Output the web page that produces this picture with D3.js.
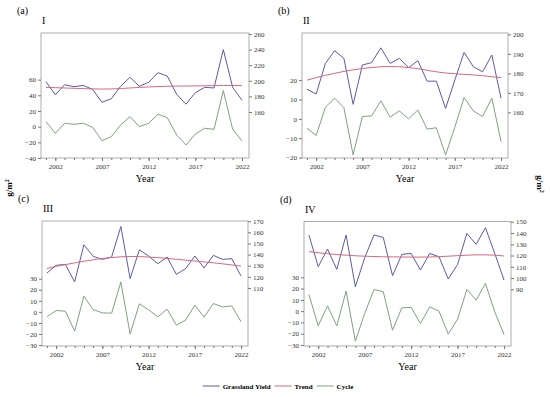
<!DOCTYPE html>
<html>
<head>
<meta charset="UTF-8">
<script src="https://d3js.org/d3.v7.min.js"></script>
<style>
  body { margin: 0; background: #fff; }
  svg text { font-family: "Liberation Serif", "Times New Roman", serif; }
  .tick text { font-size: 7px; fill: #333; }
  .tick line, .domain { stroke: #777; }
</style>
</head>
<body>
<svg id="chart" width="550" height="397"></svg>
<script>
const years = d3.range(2001, 2023);

const yieldI = [199, 182, 195, 192.5, 194, 189, 172.4, 177, 193, 204.5, 193, 198, 210.4, 206, 182.7, 170, 184.8, 191.6, 190.8, 240, 191.6, 175];
const trendI = [191.5, 191.2, 190.8, 190.4, 190, 189.6, 189.4, 189.6, 190.1, 190.8, 191.5, 192.1, 192.6, 193, 193.2, 193.3, 193.4, 193.6, 193.8, 194, 194, 193.8];
const cycleI = [6.4, -8.5, 4.3, 3, 4.3, -0.9, -17.9, -12.8, 2.1, 12.8, 0, 4.3, 15.8, 11.5, -10.6, -23.4, -9.4, -2, -3.4, 46, -3.4, -18.3];

const yieldII = [171.9, 169.4, 185.1, 191.6, 187.7, 164.1, 184.3, 185.5, 193.1, 185.1, 187.7, 182.9, 186.5, 176, 176, 162, 176.6, 190.8, 183.4, 180.8, 189.4, 167.2];
const trendII = [176.5, 177.8, 179, 180, 181, 181.8, 182.5, 183, 183.4, 183.5, 183.4, 183, 182.4, 181.6, 180.8, 180.2, 179.8, 179.5, 179.2, 178.8, 178.3, 177.8];
const cycleII = [-4.8, -8.6, 6, 10.7, 5.8, -18.6, 1.2, 1.5, 9.3, 0.9, 4.1, 0, 4.6, -5.3, -4.6, -18.6, -4.3, 11, 4.1, 1.2, 10.7, -11.7];

const yieldIII = [123.4, 130.3, 131.2, 115.4, 148.8, 138.4, 135.7, 137.8, 165.2, 118.4, 144.3, 138.7, 131.8, 137.8, 122.2, 127.3, 138.7, 127.9, 139.3, 135.7, 136.3, 120.7];
const trendIII = [127.5, 129.5, 131, 132.5, 134, 135.3, 136.5, 137.3, 138, 138.3, 138.2, 137.8, 137.3, 136.6, 135.8, 135, 134.2, 133.4, 132.6, 131.7, 130.7, 129.6];
const cycleIII = [-4.5, 1.2, 0.6, -17.4, 14.1, 2.1, -0.9, -1.2, 27, -20.1, 7.2, 1.8, -4.5, 2.4, -12, -7.5, 6, -4.8, 7.5, 4.5, 5.4, -9];

const yieldIV = [138.2, 110.1, 125.7, 107.7, 138.2, 92.3, 118, 138.2, 136.1, 102.1, 121, 121.9, 107.1, 121.9, 118.9, 99.1, 112.1, 139.6, 129.9, 144.7, 121.9, 98.2];
const trendIV = [123.5, 122.5, 121.6, 120.9, 120.3, 119.8, 119.4, 119.1, 118.9, 118.8, 118.7, 118.6, 118.6, 118.7, 119, 119.4, 119.9, 120.3, 120.6, 120.6, 120.3, 119.6];
const cycleIV = [14.8, -13, 4.7, -13, 17.8, -26.6, -2.1, 19.2, 17.2, -16.9, 3, 3.3, -10.9, 3.8, 0, -20.4, -7.1, 19.2, 9.8, 24.6, -0.6, -20.7];

const yearTicks = [2002, 2007, 2012, 2017, 2022];
const leftTicksI = [-40, -20, 0, 20, 40, 60];
const rightTicksI = [160, 180, 200, 220, 240, 260];
const leftTicksII = [-20, -10, 0, 10, 20];
const rightTicksII = [160, 170, 180, 190, 200];
const leftTicksIII = [-30, -20, -10, 0, 10, 20, 30];
const rightTicksIII = [110, 120, 130, 140, 150, 160, 170];
const leftTicksIV = [-30, -20, -10, 0, 10, 20, 30];
const rightTicksIV = [90, 100, 110, 120, 130, 140, 150];

const seriesNames = ["Grassland Yield", "Trend", "Cycle"];
const colors = { "Grassland Yield": "#5b5ba8", "Trend": "#d8697a", "Cycle": "#7fa27f" };
const serif = "'Liberation Serif', 'Times New Roman', serif";

const panels = [
  { tag: "(a)", name: "I", x0: 41, x1: 249, y0: 33, y1: 158, left: [-40, 119.5], right: [101, 261.3],
    lt: leftTicksI, rt: rightTicksI, yl: yieldI, tr: trendI, cy: cycleI },
  { tag: "(b)", name: "II", x0: 302, x1: 508, y0: 33, y1: 158, left: [-20.2, 44.3], right: [136.6, 200.7],
    lt: leftTicksII, rt: rightTicksII, yl: yieldII, tr: trendII, cy: cycleII },
  { tag: "(c)", name: "III", x0: 42, x1: 248, y0: 221, y1: 346, left: [-30.9, 82.2], right: [57.8, 170.2],
    lt: leftTicksIII, rt: rightTicksIII, yl: yieldIII, tr: trendIII, cy: cycleIII },
  { tag: "(d)", name: "IV", x0: 304, x1: 511, y0: 221.5, y1: 346, left: [-30.9, 79.5], right: [39.7, 150.2],
    lt: leftTicksIV, rt: rightTicksIV, yl: yieldIV, tr: trendIV, cy: cycleIV }
];

const svg = d3.select("#chart").attr("font-family", serif);

panels.forEach(p => {
  const g = svg.append("g");
  const x = d3.scaleLinear().domain([2000.47, 2022.75]).range([p.x0, p.x1]);
  const yL = d3.scaleLinear().domain(p.left).range([p.y1, p.y0]);
  const yR = d3.scaleLinear().domain(p.right).range([p.y1, p.y0]);

  // frame
  g.append("rect")
    .attr("x", p.x0).attr("y", p.y0)
    .attr("width", p.x1 - p.x0).attr("height", p.y1 - p.y0)
    .attr("fill", "none").attr("stroke", "#999").attr("stroke-width", 0.8);

  // minor year ticks
  g.append("g")
    .attr("transform", `translate(0,${p.y1})`)
    .call(d3.axisBottom(x).tickValues(years).tickSize(2).tickFormat(""))
    .call(a => a.select(".domain").remove());

  g.append("g")
    .attr("transform", `translate(0,${p.y1})`)
    .call(d3.axisBottom(x).tickValues(yearTicks).tickSize(3).tickPadding(3).tickFormat(d3.format("d")))
    .attr("font-family", serif)
    .call(a => a.select(".domain").remove());

  g.append("g")
    .attr("transform", `translate(${p.x0},0)`)
    .call(d3.axisLeft(yL).tickValues(p.lt).tickSize(3).tickPadding(2))
    .attr("font-family", serif)
    .call(a => a.select(".domain").remove());

  g.append("g")
    .attr("transform", `translate(${p.x1},0)`)
    .call(d3.axisRight(yR).tickValues(p.rt).tickSize(3).tickPadding(2))
    .attr("font-family", serif)
    .call(a => a.select(".domain").remove());

  const lineR = d3.line().x((d, i) => x(years[i])).y(d => yR(d));
  const lineL = d3.line().x((d, i) => x(years[i])).y(d => yL(d));

  g.append("path").datum(p.cy).attr("d", lineL)
    .attr("fill", "none").attr("stroke", colors["Cycle"]).attr("stroke-width", 1);
  g.append("path").datum(p.yl).attr("d", lineR)
    .attr("fill", "none").attr("stroke", colors["Grassland Yield"]).attr("stroke-width", 1);
  g.append("path").datum(p.tr).attr("d", lineR)
    .attr("fill", "none").attr("stroke", colors["Trend"]).attr("stroke-width", 1);

  g.append("text")
    .attr("x", p.x0 - 24).attr("y", p.y0 - 19)
    .style("font-size", "10px")
    .text(p.tag);
  g.append("text")
    .attr("x", p.x0 + 1).attr("y", p.y0 - 9)
    .style("font-size", "10px")
    .text(p.name);
  g.append("text")
    .attr("x", (p.x0 + p.x1) / 2).attr("y", p.y1 + 24)
    .attr("text-anchor", "middle")
    .style("font-size", "10px")
    .text("Year");
});

// shared unit labels
svg.append("text")
  .attr("transform", "translate(12,188) rotate(-90)")
  .attr("text-anchor", "middle")
  .style("font-size", "9px").style("font-weight", "bold")
  .html("g/m<tspan dy='-3' font-size='6'>2</tspan>");
svg.append("text")
  .attr("transform", "translate(537,184) rotate(90)")
  .attr("text-anchor", "middle")
  .style("font-size", "9px").style("font-weight", "bold")
  .html("g/m<tspan dy='-3' font-size='6'>2</tspan>");

// legend, laid out from measured text widths
const legend = svg.append("g").attr("transform", "translate(0,386)");
let cursor = 0;
seriesNames.forEach(s => {
  const item = legend.append("g").attr("transform", `translate(${cursor},0)`);
  item.append("line")
    .attr("x1", 0).attr("x2", 17).attr("y1", 0).attr("y2", 0)
    .attr("stroke", colors[s]).attr("stroke-width", 1);
  const t = item.append("text")
    .attr("x", 20).attr("y", 2.5)
    .style("font-size", "7px").style("font-weight", "bold")
    .text(s);
  cursor += 20 + t.node().getComputedTextLength() + 4;
});
legend.attr("transform", `translate(${278 - (cursor - 4) / 2},386)`);
</script>
</body>
</html>
